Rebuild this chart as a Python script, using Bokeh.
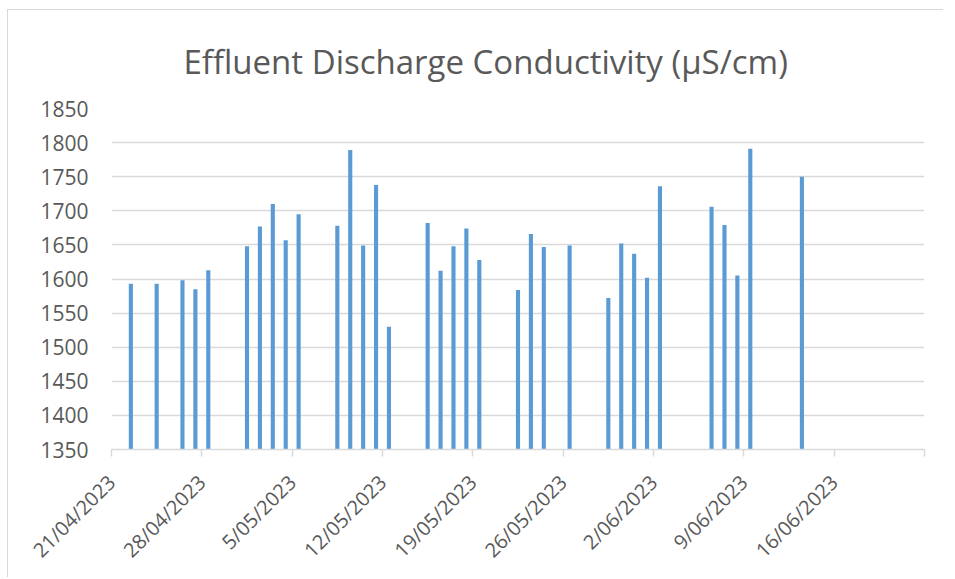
from datetime import date
from bokeh.plotting import figure
from bokeh.models import FixedTicker, Title, ColumnDataSource, Range1d
from bokeh.embed import file_html
from bokeh.resources import INLINE
import math

# ---- data ----
sample_dates = [
    "2023-04-22", "2023-04-24", "2023-04-26", "2023-04-27", "2023-04-28",
    "2023-05-01", "2023-05-02", "2023-05-03", "2023-05-04", "2023-05-05",
    "2023-05-08", "2023-05-09", "2023-05-10", "2023-05-11", "2023-05-12",
    "2023-05-15", "2023-05-16", "2023-05-17", "2023-05-18", "2023-05-19",
    "2023-05-22", "2023-05-23", "2023-05-24", "2023-05-26",
    "2023-05-29", "2023-05-30", "2023-05-31", "2023-06-01", "2023-06-02",
    "2023-06-06", "2023-06-07", "2023-06-08", "2023-06-09",
    "2023-06-13",
]
conductivity = [
    1593, 1593, 1598, 1585, 1613,
    1648, 1677, 1710, 1657, 1695,
    1678, 1789, 1649, 1738, 1530,
    1682, 1612, 1648, 1674, 1628,
    1584, 1666, 1647, 1649,
    1572, 1652, 1637, 1602, 1736,
    1706, 1679, 1605, 1791,
    1750,
]
axis_start = "2023-04-21"
axis_end = "2023-06-23"
tick_labels = ["21/04/2023", "28/04/2023", "5/05/2023", "12/05/2023", "19/05/2023",
               "26/05/2023", "2/06/2023", "9/06/2023", "16/06/2023", ""]
y_ticks = [1350, 1400, 1450, 1500, 1550, 1600, 1650, 1700, 1750, 1800, 1850]
title_text = "Effluent Discharge Conductivity (µS/cm)"

# ---- derived ----
d0 = date.fromisoformat(axis_start)
d_end = date.fromisoformat(axis_end)
day_index = [(date.fromisoformat(s) - d0).days + 0.5 for s in sample_dates]
x_ticks = [7 * i for i in range(len(tick_labels))]
total_days = (d_end - d0).days

src = ColumnDataSource(dict(x=day_index, y=conductivity))

FONT = "Open Sans"
TXT = "#595959"
GRID = "#d9d9d9"

p = figure(width=936, height=568, output_backend="svg", toolbar_location=None,
           x_range=Range1d(0, total_days), y_range=Range1d(y_ticks[0], y_ticks[-1]),
           min_border_left=103, min_border_right=20, min_border_top=98, min_border_bottom=129)
p.margin = (9, 0, 0, 7)
p.styles = {"border-left": "1px solid #d9d9d9", "border-top": "1px solid #d9d9d9"}
p.outline_line_color = None
p.background_fill_color = "white"
p.border_fill_color = "white"

p.vbar(x="x", top="y", bottom=y_ticks[0], width=0.32, source=src,
       fill_color="#5b9bd5", line_color=None)

p.title = Title(text=title_text, align="left", offset=72, text_font=FONT,
                text_font_size="33px", text_color=TXT, text_font_style="normal",
                standoff=50)

# x axis
xa = p.xaxis[0]
xa.ticker = FixedTicker(ticks=x_ticks)
xa.major_label_overrides = {k: v for k, v in zip(x_ticks, tick_labels)}
xa.major_label_orientation = math.pi / 4
xa.major_label_text_font = FONT
xa.major_label_text_font_size = "20px"
xa.major_label_text_color = TXT
xa.axis_line_color = GRID
xa.axis_line_width = 1.5
xa.major_tick_line_color = GRID
xa.major_tick_line_width = 1.5
xa.major_tick_out = 7
xa.major_tick_in = 0
xa.minor_tick_line_color = None
xa.major_label_standoff = 22

# y axis
ya = p.yaxis[0]
ya.ticker = FixedTicker(ticks=y_ticks)
ya.axis_line_color = None
ya.major_tick_line_color = None
ya.minor_tick_line_color = None
ya.major_label_text_font = FONT
ya.major_label_text_font_size = "21px"
ya.major_label_text_color = TXT
ya.major_label_standoff = 17

p.xgrid.grid_line_color = None
p.ygrid.grid_line_color = GRID
p.ygrid.grid_line_width = 1.5

open("out.html", "w").write(file_html(p, INLINE))
